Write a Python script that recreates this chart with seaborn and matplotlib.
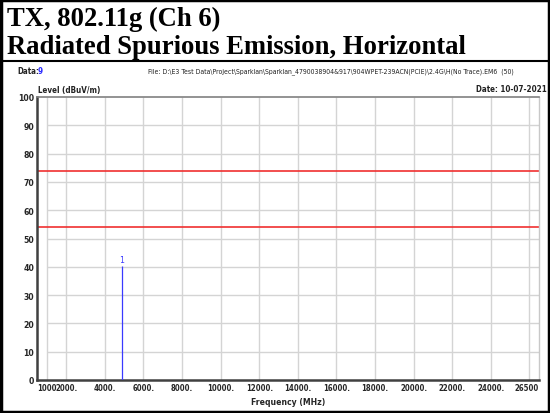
import matplotlib.pyplot as plt
import matplotlib.patches as patches
import seaborn as sns

# --- data ---
x_ticks = [1000, 2000, 4000, 6000, 8000, 10000, 12000, 14000, 16000,
           18000, 20000, 22000, 24000, 26500]
x_tick_labels = ["1000", "2000.", "4000.", "6000.", "8000.", "10000.", "12000.",
                 "14000.", "16000.", "18000.", "20000.", "22000.", "24000.", "26500"]
x_grid = [1000, 2000, 4000, 6000, 8000, 10000, 12000, 14000, 16000,
          18000, 20000, 22000, 24000, 26000]
y_ticks = [0, 10, 20, 30, 40, 50, 60, 70, 80, 90, 100]
limit_levels = [74, 54]
peak_freqs = [4874]
peak_levels = [40.4]
peak_ids = ["1"]

sns.set_style("white")
narrow = dict(family="DejaVu Sans", fontstretch="condensed")
serif = ["Liberation Serif", "DejaVu Serif"]

fig = plt.figure(figsize=(5.5, 4.14), dpi=100)

# outer frame and title separator
fig.add_artist(patches.Rectangle((0.002, 0.002), 0.996, 0.996, transform=fig.transFigure,
                                 fill=False, edgecolor="black", linewidth=2.5))
fig.add_artist(plt.Line2D([0, 1], [1 - 62 / 414, 1 - 62 / 414], transform=fig.transFigure,
                          color="black", linewidth=1.5))

fig.text(7 / 550, 1 - 19 / 414, "TX, 802.11g (Ch 6)", family=serif, fontweight="bold",
         fontsize=19.2, va="center", ha="left", color="black")
fig.text(7 / 550, 1 - 48 / 414, "Radiated Spurious Emission, Horizontal", family=serif,
         fontweight="bold", fontsize=19.2, va="center", ha="left", color="black")

# header texts
fig.text(17 / 550, 1 - 72 / 414, "Data:", fontsize=5.8, va="center", color="#222222",
         fontweight="bold", **narrow)
fig.text(38 / 550, 1 - 72 / 414, "9", fontsize=5.8, va="center", color="#2a2aff",
         fontweight="bold", **narrow)
fig.text(148 / 550, 1 - 72 / 414,
         "File: D:\\E3 Test Data\\Project\\Sparklan\\Sparklan_4790038904&917\\904WPET-239ACN(PCIE)\\2.4G\\H(No Trace).EM6  (50)",
         fontsize=4.95, va="center", color="#222222", **narrow)
fig.text(547 / 550, 1 - 89 / 414, "Date: 10-07-2021", fontsize=5.8, fontweight="bold",
         va="center", ha="right", color="#222222", **narrow)
fig.text(38 / 550, 1 - 90 / 414, "Level (dBuV/m)", fontsize=5.8, fontweight="bold",
         va="center", ha="left", color="#222222", **narrow)

ax = fig.add_axes([37 / 550, 33 / 414, 502 / 550, 283 / 414])
ax.set_xlim(480, 26500)
ax.set_ylim(0, 100)

# grid
ax.vlines(x_grid, 0, 100, color="#d4d4d4", linewidth=1, zorder=1)
ax.hlines(y_ticks[1:-1], 1000, 26500, color="#d4d4d4", linewidth=1, zorder=1)

# limit lines
for lvl in limit_levels:
    ax.axhline(lvl, color="#f03030", linewidth=1.2, zorder=2)

# peaks
ax.vlines(peak_freqs, 0, peak_levels, color="#3a3aff", linewidth=0.9, zorder=3)
for f, l, t in zip(peak_freqs, peak_levels, peak_ids):
    ax.annotate(t, (f, l), xytext=(0, 1), textcoords="offset points", ha="center",
                va="bottom", fontsize=6.2, color="#3a3aff", **narrow)

ax.set_xticks(x_ticks)
ax.set_xticklabels(x_tick_labels, fontsize=5.6, fontweight="bold", **narrow)
ax.get_xticklabels()[-1].set_horizontalalignment("right")
ax.set_yticks(y_ticks)
ax.set_yticklabels([str(v) for v in y_ticks], fontsize=6.2, fontweight="bold", **narrow)
ax.tick_params(length=0, pad=2)
ax.set_xlabel("Frequency (MHz)", fontsize=6.2, fontweight="bold", labelpad=4, **narrow)

for side in ["left", "bottom"]:
    ax.spines[side].set_color("#404040")
    ax.spines[side].set_linewidth(1.8)
ax.spines["top"].set_color("#808080")
ax.spines["top"].set_linewidth(1.2)
ax.spines["right"].set_color("#c8c8c8")
ax.spines["right"].set_linewidth(1)

fig.savefig("out.png", dpi=100)
